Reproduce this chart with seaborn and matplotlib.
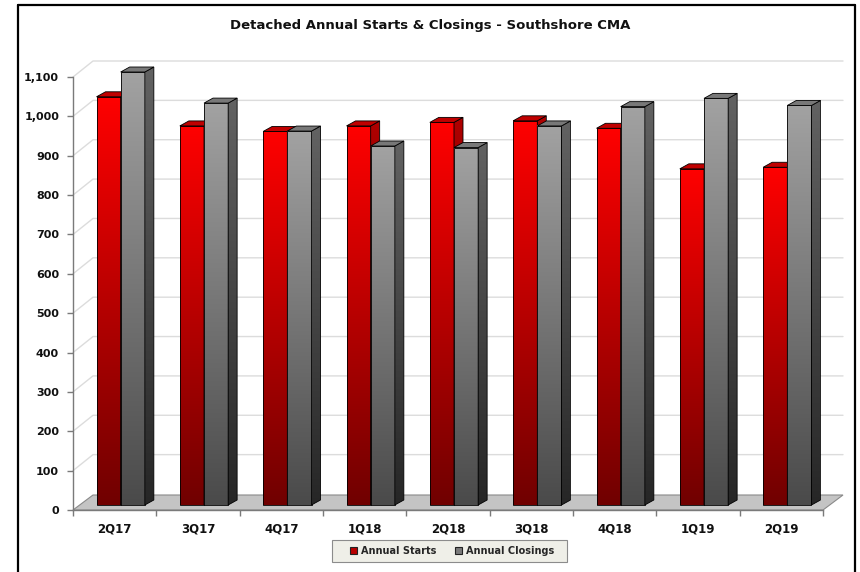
import numpy as np
import pandas as pd
import seaborn as sns
import matplotlib
matplotlib.use("Agg")
import matplotlib.pyplot as plt
from matplotlib.patches import Polygon, Patch, Rectangle
from matplotlib.colors import LinearSegmentedColormap
from matplotlib.transforms import ScaledTranslation
from matplotlib.lines import Line2D

# ---- data -------------------------------------------------------------
quarters = ["2Q17", "3Q17", "4Q17", "1Q18", "2Q18", "3Q18", "4Q18", "1Q19", "2Q19"]
annual_starts = [1037, 963, 949, 963, 972, 976, 957, 854, 858]
annual_closings = [1100, 1021, 950, 912, 908, 963, 1012, 1033, 1015]
series_names = ["Annual Starts", "Annual Closings"]
y_ticks = list(range(0, 1101, 100))
title = "Detached Annual Starts & Closings - Southshore CMA"

# ---- figure / axes geometry (pixels) ---------------------------------
W, H, DPI = 860, 572, 100
sns.set_theme(style="white")
plt.rcParams["font.family"] = ["DejaVu Sans"]

fig = plt.figure(figsize=(W / DPI, H / DPI), dpi=DPI, facecolor="white")
AX_L, AX_R, AX_T, AX_B = 73, 823, 77, 510
ax = fig.add_axes([AX_L / W, (H - AX_B) / H, (AX_R - AX_L) / W, (AX_B - AX_T) / H])
ax.set_facecolor("none")

px_x = (AX_R - AX_L) / len(quarters)      # pixels per category unit
px_y = (AX_B - AX_T) / 1100.0             # pixels per value unit


def ux(p):
    return p / px_x


def uy(p):
    return p / px_y


WALL_DX, WALL_DY = 20, 16   # depth of the back wall
BAR_DX, BAR_DY = 9, 5       # depth of each column
SET_DX, SET_DY = 6, 5       # columns sit a little behind the floor edge

df = pd.DataFrame({
    "Quarter": quarters * 2,
    "Units": annual_starts + annual_closings,
    "Series": [series_names[0]] * len(quarters) + [series_names[1]] * len(quarters),
})

sns.barplot(data=df, x="Quarter", y="Units", hue="Series", order=quarters,
            hue_order=series_names, palette=["#cc0000", "#888888"],
            width=0.58, gap=0, dodge=True, saturation=1, errorbar=None,
            legend=False, edgecolor="black", linewidth=0.6, ax=ax)

xlo, xhi = -0.5, len(quarters) - 0.5

# ---- back wall gridlines and floor -----------------------------------
for v in y_ticks[1:]:
    ax.add_line(Line2D([xlo, xlo + ux(WALL_DX), xhi + ux(WALL_DX)],
                       [v, v + uy(WALL_DY), v + uy(WALL_DY)],
                       color="#dcdcdc", lw=1.0, zorder=0.5, clip_on=False))

floor = Polygon([(xlo, 0), (xhi, 0), (xhi + ux(WALL_DX), uy(WALL_DY - 1)),
                 (xlo + ux(WALL_DX), uy(WALL_DY - 1))], closed=True,
                facecolor="#c4c4c4", edgecolor="#8a8a8a", lw=0.8,
                zorder=0.6, clip_on=False)
ax.add_patch(floor)

# ---- shaded 3-D columns ----------------------------------------------
off = ax.transData + ScaledTranslation(SET_DX / DPI, SET_DY / DPI, fig.dpi_scale_trans)

styles = [
    dict(front=("#700000", "#ff0000"), side=("#3a0000", "#b00000"), top="#c00000"),
    dict(front=("#4a4a4a", "#a2a2a2"), side=("#262626", "#626262"), top="#787878"),
]
grad = np.linspace(0, 1, 256).reshape(-1, 1)


def shade(poly_patch, extent, colors, z):
    cmap = LinearSegmentedColormap.from_list("g", list(colors))
    img = ax.imshow(grad, extent=extent, origin="lower", aspect="auto",
                    cmap=cmap, transform=off, zorder=z, interpolation="bilinear")
    img.set_clip_path(poly_patch)
    img.set_clip_box(fig.bbox)


for j, cont in enumerate(ax.containers):
    st = styles[j]
    for i, bar in enumerate(cont.patches):
        x0, w, h = bar.get_x(), bar.get_width(), bar.get_height()
        x1 = x0 + w
        z = 2 + i * 10 + j * 5
        ddx, ddy = ux(BAR_DX), uy(BAR_DY)

        # front face: the seaborn bar itself, moved back onto the floor
        bar.set_transform(off)
        bar.set_facecolor("none")
        bar.set_zorder(z + 0.1)
        bar.set_clip_on(False)
        shade(bar, (x0, x1, 0, h), st["front"], z)

        # right-hand side face
        side = Polygon([(x1, 0), (x1 + ddx, ddy), (x1 + ddx, h + ddy), (x1, h)],
                       closed=True, facecolor="none", edgecolor="black", lw=0.6,
                       transform=off, zorder=z + 0.3, clip_on=False)
        ax.add_patch(side)
        shade(side, (x1, x1 + ddx, 0, h + ddy), st["side"], z + 0.2)

        # top face
        top = Polygon([(x0, h), (x0 + ddx, h + ddy), (x1 + ddx, h + ddy), (x1, h)],
                      closed=True, facecolor=st["top"], edgecolor="black", lw=0.6,
                      transform=off, zorder=z + 0.4, clip_on=False)
        ax.add_patch(top)

# ---- axes, ticks, labels --------------------------------------------
ax.set_xlim(xlo, xhi)
ax.set_ylim(0, 1100)
ax.set_xlabel("")
ax.set_ylabel("")
for s in ("top", "right"):
    ax.spines[s].set_visible(False)
for s in ("left", "bottom"):
    ax.spines[s].set_color("#7a7a7a")
    ax.spines[s].set_linewidth(1.0)
    ax.spines[s].set_zorder(1)

ax.set_yticks(y_ticks)
ax.set_yticklabels([f"{v:,}" for v in y_ticks], fontsize=8, fontweight="bold",
                   color="#111111")
ax.set_xticks(range(len(quarters)))
ax.set_xticklabels(quarters, fontsize=8.5, fontweight="bold", color="#111111")
ax.set_xticks(np.arange(len(quarters) + 1) - 0.5, minor=True)
ax.tick_params(axis="y", which="major", direction="out", length=4, width=1,
               color="#7a7a7a", pad=6, left=True)
ax.tick_params(axis="x", which="major", length=0, pad=9)
ax.tick_params(axis="x", which="minor", direction="out", length=4, width=1,
               color="#7a7a7a", bottom=True)
ax.grid(False)

# ---- title, legend, frame --------------------------------------------
fig.text(430 / W, 1 - 25 / H, title, ha="center", va="center",
         fontsize=9.5, fontweight="bold", color="#111111")

# legend box
fig.add_artist(Rectangle((332 / W, 1 - 562 / H), (567 - 332) / W, 22 / H,
                         transform=fig.transFigure, facecolor="#efefe8",
                         edgecolor="#8c8c8c", lw=0.8, zorder=5))
handles = [Patch(facecolor="#b80000", edgecolor="#222222", lw=0.8),
           Patch(facecolor="#7a7a7a", edgecolor="#222222", lw=0.8)]
leg = fig.legend(handles, series_names, loc="center left", ncol=2,
                 bbox_to_anchor=(350 / W, 1 - 551 / H), bbox_transform=fig.transFigure,
                 frameon=False, prop={"size": 7, "weight": "bold"},
                 handlelength=0.75, handleheight=0.75, handletextpad=0.4,
                 columnspacing=1.9, borderpad=0.0, borderaxespad=0.0)
leg.set_zorder(6)

for xs, ys in [([18, 18], [5, 572]), ([18, 855], [5, 5]), ([855, 855], [5, 572])]:
    fig.add_artist(Line2D([x / W for x in xs], [1 - y / H for y in ys],
                          color="black", lw=1.6, transform=fig.transFigure))

fig.savefig("out.png", dpi=DPI, facecolor="white")
